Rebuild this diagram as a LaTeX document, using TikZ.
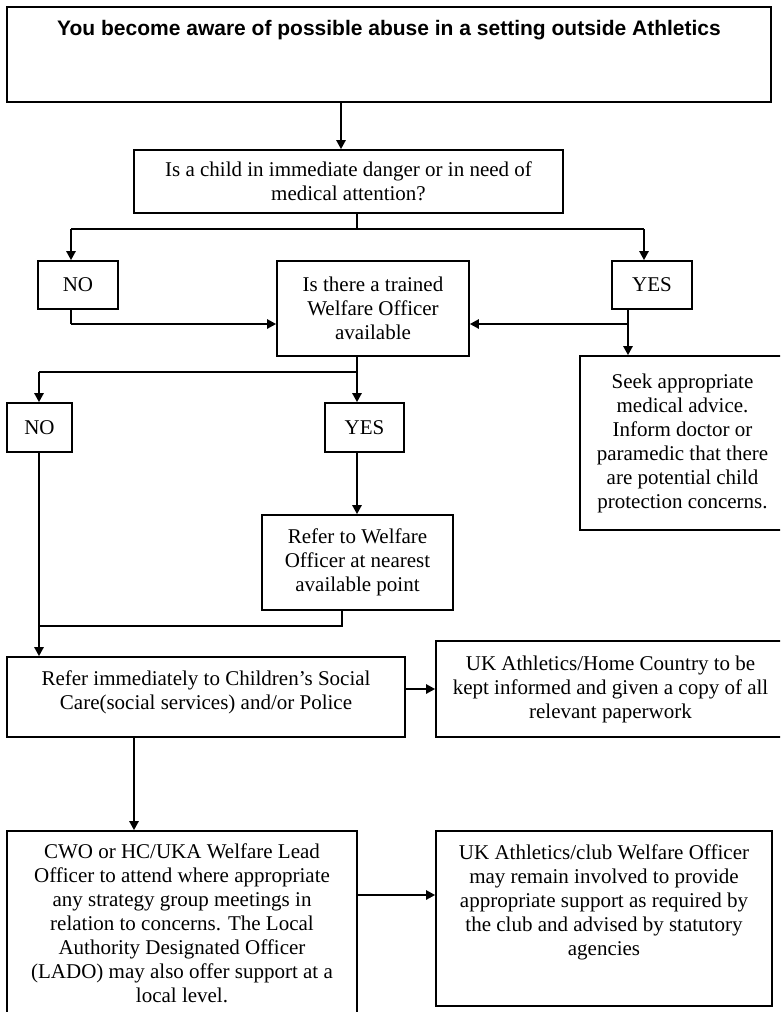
\documentclass[tikz,border=0pt]{standalone}
\usepackage{fontspec}
\setmainfont{Liberation Serif}
\newfontfamily\headfont{Liberation Sans}
\usetikzlibrary{arrows.meta}

\begin{document}
\begin{tikzpicture}[x=1pt, y=-1pt, >={Triangle[length=9pt,width=9pt]},
    box/.style={draw, line width=1.6pt, align=center, inner sep=0pt,
        font=\fontsize{21}{24}\selectfont},
    link/.style={line width=1.6pt},
    arrow/.style={->, line width=2.8pt}]
    \useasboundingbox (0,0) rectangle (780,1012);
    \clip (0,0) rectangle (780,1012);
    \node[box, minimum width=764pt, minimum height=95pt, font=\headfont\bfseries\fontsize{21}{24}\selectfont] (title) at (389,54.5)
        {You become aware of possible abuse in a setting outside Athletics\\[29pt]\mbox{}};
    \node[box, minimum width=429pt, minimum height=63pt] (q1) at (348.5,181.5)
        {Is a child in immediate danger or in need of\\medical attention?};
    \node[box, minimum width=80pt, minimum height=48pt] (no1) at (78,285) {NO};
    \node[box, minimum width=192pt, minimum height=95pt] (q2) at (373,308.5)
        {Is there a trained\\Welfare Officer\\available};
    \node[box, minimum width=80pt, minimum height=48pt] (yes1) at (652,285) {YES};
    \node[box, minimum width=205pt, minimum height=174pt] (seek) at (682.5,443)
        {Seek appropriate\\medical advice.\\Inform doctor or\\paramedic that there\\are potential child\\protection concerns.};
    \node[box, minimum width=65pt, minimum height=49pt] (no2) at (39.5,427.5) {NO};
    \node[box, minimum width=79pt, minimum height=49pt] (yes2) at (364.5,427.5) {YES};
    \node[box, minimum width=191pt, minimum height=95pt] (refer) at (357.5,562.5)
        {Refer to Welfare\\Officer at nearest\\available point};
    \node[box, minimum width=398pt, minimum height=80pt] (social) at (206,697)
        {Refer immediately to Children’s Social\\Care(social services) and/or Police\\[-10pt]\mbox{}};
    \node[box, minimum width=349pt, minimum height=96pt] (uk) at (610.5,689)
        {UK Athletics/Home Country to be\\kept informed and given a copy of all\\relevant paperwork};
    \node[box, minimum width=350pt, minimum height=184pt] (cwo) at (182,923)
        {CWO or HC/UKA Welfare Lead\\Officer to attend where appropriate\\any strategy group meetings in\\relation to concerns. The Local\\Authority Designated Officer\\(LADO) may also offer support at a\\local level.};
    \node[box, minimum width=336pt, minimum height=175pt] (ukclub) at (604,918.5)
        {UK Athletics/club Welfare Officer\\may remain involved to provide\\appropriate support as required by\\the club and advised by statutory\\agencies\\[12pt]\mbox{}};
    \coordinate (b1) at (357,229);
    \coordinate (b1l) at (71,229);
    \coordinate (b1r) at (644,229);
    \coordinate (n1) at (71,324);
    \coordinate (y1) at (628,324);
    \coordinate (b2) at (357,372);
    \coordinate (b2l) at (39,372);
    \coordinate (r1) at (342,626);
    \coordinate (m1) at (39,626);
    \draw[arrow] ([xshift=-48pt]title.south) -- ([xshift=-48pt]title.south |- q1.north);
    \draw[link] (q1.south -| b1) -- (b1);
    \draw[link] (b1l) -- (b1r);
    \draw[arrow] (b1l) -- (b1l |- no1.north);
    \draw[arrow] (b1r) -- (b1r |- yes1.north);
    \draw[link] (no1.south -| n1) -- (n1);
    \draw[arrow] (n1) -- (q2.west |- n1);
    \draw[link] (yes1.south -| y1) -- (y1);
    \draw[arrow] (y1) -- (q2.east |- y1);
    \draw[arrow] (y1) -- (y1 |- seek.north);
    \draw[arrow] (q2.south -| b2) -- (b2 |- yes2.north);
    \draw[link] (b2) -- (b2l);
    \draw[arrow] (b2l) -- (b2l |- no2.north);
    \draw[arrow] (yes2.south -| b2) -- (b2 |- refer.north);
    \draw[link] (refer.south -| r1) -- (r1) -- (m1);
    \draw[arrow] (no2.south -| m1) -- (m1 |- social.north);
    \draw[arrow] (social.east |- uk.west) -- (uk.west);
    \draw[arrow] ([xshift=-72pt]social.south) -- ([xshift=-72pt]social.south |- cwo.north);
    \draw[arrow] ([yshift=28pt]cwo.east) -- ([yshift=28pt]cwo.east -| ukclub.west);
\end{tikzpicture}
\end{document}
